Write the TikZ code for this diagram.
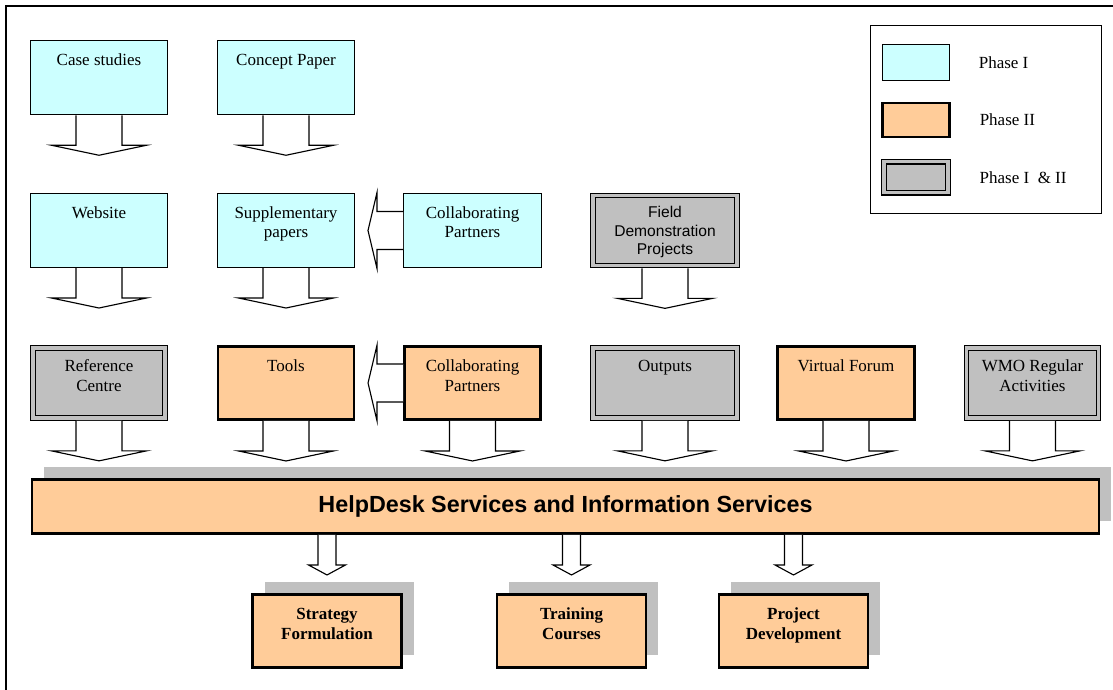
\documentclass[tikz,border=0pt]{standalone}
\usepackage{fontspec}
\setmainfont{Liberation Serif}
\setsansfont{Liberation Sans}
\usepackage{tikz}
\usetikzlibrary{positioning}
\usetikzlibrary{calc, shadows}
\definecolor{cyanbox}{HTML}{CCFFFF}
\definecolor{orangebox}{HTML}{FFCC99}
\definecolor{graybox}{HTML}{C0C0C0}

\begin{document}
\begin{tikzpicture}[x=0.75pt,y=-0.75pt,
	ph1/.style={draw, line width=0.75pt, fill=cyanbox,
	minimum width=102.75pt, minimum height=55.5pt},
	ph2/.style={draw, line width=2.2pt, fill=orangebox,
	minimum width=102pt, minimum height=54.75pt},
	ph12/.style={draw, line width=1pt, double=graybox, double distance=2.3pt,
	fill=graybox, outer sep=2.15pt, minimum width=99pt, minimum height=52.5pt},
	lbl/.style={font=\fontsize{12.75}{14.6}\selectfont, align=center,
	anchor=base, inner sep=0pt},
	blk/.style={draw, fill=white, line width=0.85pt},
	shad/.style={general shadow={fill=graybox, shadow xshift=9pt, shadow yshift=9.75pt}}]
\useasboundingbox (0,0) rectangle (1113,689);
\clip (0,0) rectangle (1113,689);
\draw [line width=1.1pt] (6,6) rectangle (1130,710);
\node [ph1] (1) at (99,77.75) {};
\node [ph1] (2) at (286,77.75) {};
\node [ph1] (3) at (99,230.5) {};
\node [ph1] (4) at (286,230.5) {};
\node [ph1, minimum width=103.5pt] (5) at (472.5,230.5) {};
\node [ph12, minimum width=108pt] (6) at (665,230.5) {};
\node [ph12] (7) at (99,383) {};
\node [ph2] (8) at (286,383) {};
\node [ph2] (9) at (472.5,383) {};
\node [ph12, minimum width=108pt] (10) at (665,383) {};
\node [ph2, minimum width=103pt] (11) at (846,383) {};
\node [ph12] (12) at (1032.5,383) {};
\node [ph2, shad, minimum width=800.25pt, minimum height=40.5pt,
	font=\fontsize{17.5}{20}\sffamily\bfseries] (13) at (565.5,506.5)
	{HelpDesk Services and Information Services};
\node [ph2, shad, minimum width=111.75pt] (14) at (327,631) {};
\node [ph2, shad, minimum width=111.75pt] (15) at (571.5,631) {};
\node [ph2, shad, minimum width=111.75pt] (16) at (793.5,631) {};
\node [lbl] (1t) at ([yshift=-19pt]1.north) {Case studies};
\node [lbl] (2t) at ([yshift=-19pt]2.north) {Concept Paper};
\node [lbl] (3t) at ([yshift=-19pt]3.north) {Website};
\node [lbl] (4t) at ([yshift=-33.6pt]4.north) {Supplementary\\papers};
\node [lbl] (5t) at ([yshift=-33.6pt]5.north) {Collaborating\\Partners};
\node [lbl, font=\fontsize{11.7}{13.9}\sffamily] (6t) at ([yshift=-46.5pt]6.north)
	{Field\\Demonstration\\Projects};
\node [lbl] (7t) at ([yshift=-34.6pt]7.north) {Reference\\Centre};
\node [lbl] (8t) at ([yshift=-19.5pt]8.north) {Tools};
\node [lbl] (9t) at ([yshift=-34.6pt]9.north) {Collaborating\\Partners};
\node [lbl] (10t) at ([yshift=-19.5pt]10.north) {Outputs};
\node [lbl] (11t) at ([yshift=-19.5pt]11.north) {Virtual Forum};
\node [lbl] (12t) at ([yshift=-34.6pt]12.north) {WMO Regular\\Activities};
\node [lbl, font=\fontsize{12.75}{14.6}\bfseries] (14t) at ([yshift=-34.5pt]14.north)
	{Strategy\\Formulation};
\node [lbl, font=\fontsize{12.75}{14.6}\bfseries] (15t) at ([yshift=-34.5pt]15.north)
	{Training\\Courses};
\node [lbl, font=\fontsize{12.75}{14.6}\bfseries] (16t) at ([yshift=-34.5pt]16.north)
	{Project\\Development};
\foreach \b in {1,2,3,4,6,7,8,9,10,11,12}
	\filldraw [blk] ($(\b.south)+(-23,0)$) -- ++(0,30) -- ++(-24.5,0)
	-- ++(47.5,10) -- ++(47.5,-10) -- ++(-24.5,0) -- ++(0,-30);
\foreach \b in {5,9}
	\filldraw [blk] ($(\b.west)+(0,-19)$) -- ++(-26,0) -- ++(0,-19)
	-- ++(-9,38) -- ++(9,38) -- ++(0,-19) -- ++(26,0);
\foreach \b in {14,15,16}
	\filldraw [blk] ($(\b.north |- 13.south)+(-9,0)$) -- ++(0,30) -- ++(-9.5,0)
	-- ++(18.5,10) -- ++(18.5,-10) -- ++(-9.5,0) -- ++(0,-30);
\node [draw, line width=0.75pt, minimum width=173.25pt, minimum height=141pt]
	(17) at (986,119.5) {};
\node [ph1, minimum width=50.25pt, minimum height=27pt] (18) at (916,62.5) {};
\node [ph2, minimum width=50.25pt, minimum height=25.5pt] (19) at (916,120) {};
\node [ph12, minimum width=48pt, minimum height=23.25pt] (20) at (916,177.3) {};
\node [lbl, right=21.4pt of 18] (21) {Phase I};
\node [lbl, right=21.4pt of 19] (22) {Phase II};
\node [lbl, right=21.4pt of 20] (23) {Phase I~ \& II};
\end{tikzpicture}
\end{document}
